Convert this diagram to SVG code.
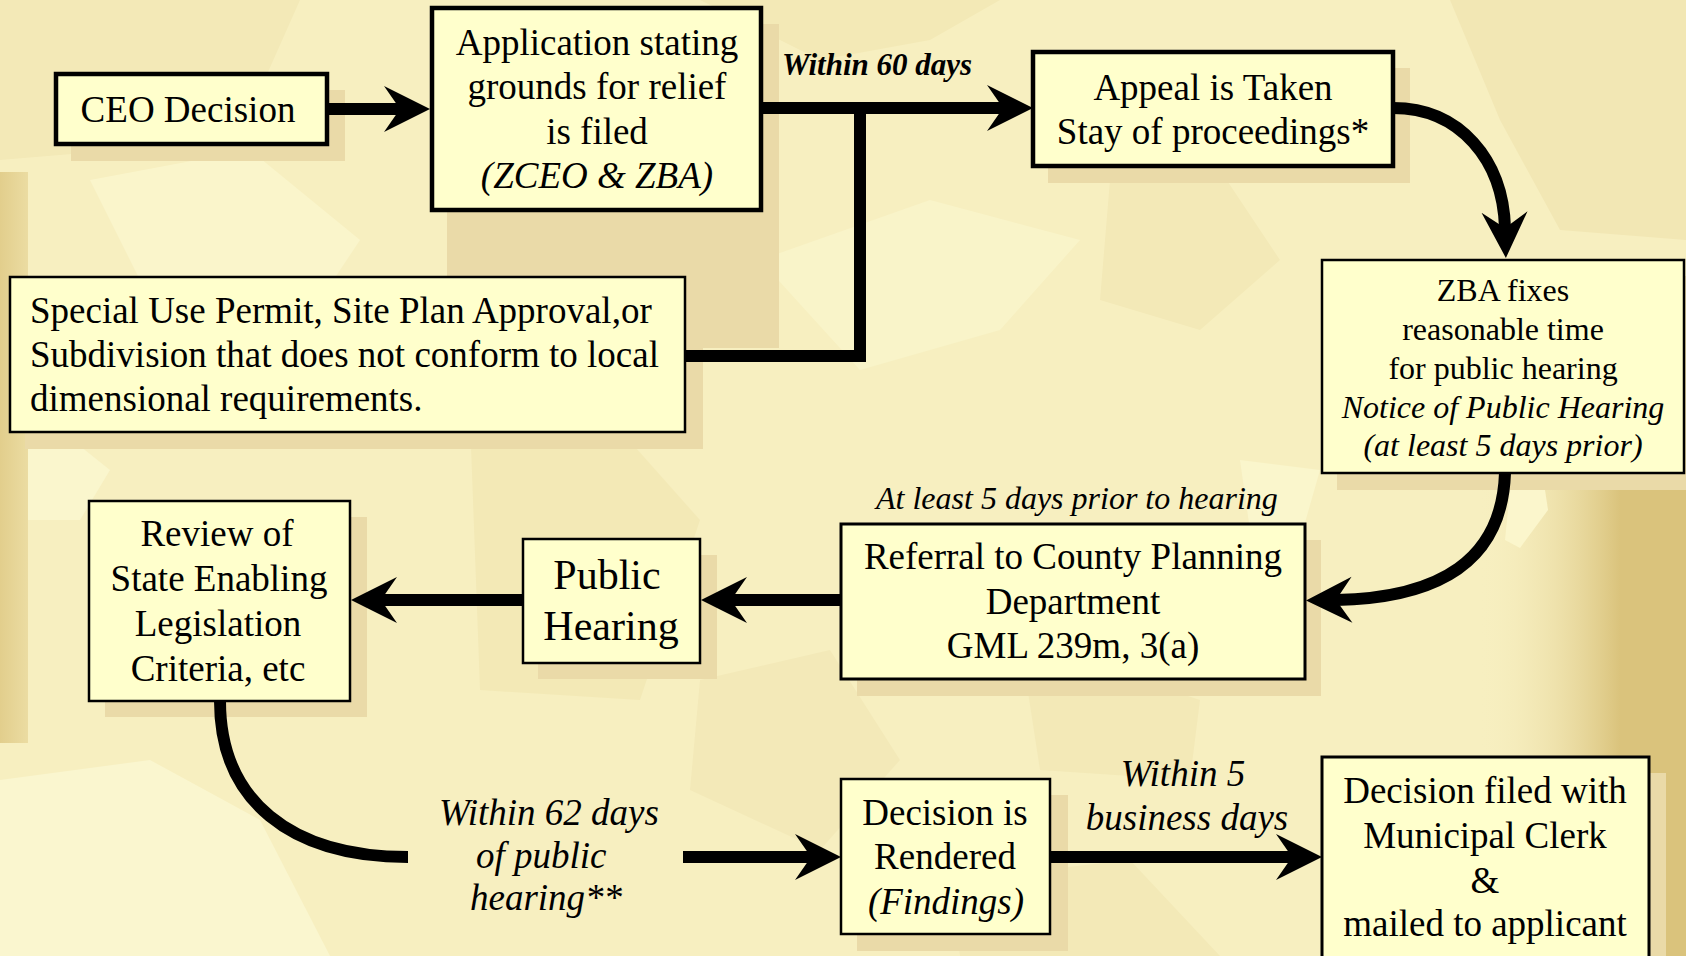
<svg xmlns="http://www.w3.org/2000/svg" width="1686" height="956" viewBox="0 0 1686 956">
  <defs>
    <style>
      .box { fill: #FFFFCC; stroke: #000; stroke-width: 3; }
      .box.heavy { stroke-width: 4.5; }
      .shadow { fill: #EADAA8; }
      .t { font-family: "Liberation Serif", "Times New Roman", serif; font-size: 37px; fill: #000; }
      .c { text-anchor: middle; }
      .i { font-style: italic; }
      .sm { font-size: 32px; }
      .big { font-size: 42px; }
      .bi { font-weight: bold; font-style: italic; font-size: 31px; }
      .wire { fill: none; stroke: #000; stroke-width: 12; stroke-linejoin: miter; }
      .wire.arrow { marker-end: url(#head); }
    </style>
    <marker id="head" markerUnits="userSpaceOnUse" viewBox="-20 -26 54 52" markerWidth="54" markerHeight="52" refX="0" refY="0" orient="auto" overflow="visible">
      <path d="M30,0 L-16,-23 L0,0 L-16,23 Z" fill="#000"/>
    </marker>
    <linearGradient id="leftStrip" x1="0" y1="0" x2="1" y2="0">
      <stop offset="0" stop-color="#E2CE8C"/>
      <stop offset="1" stop-color="#EBDCA2"/>
    </linearGradient>
    <linearGradient id="rightGold" x1="1480" y1="0" x2="1620" y2="0" gradientUnits="userSpaceOnUse">
      <stop offset="0" stop-color="#F6EDBE" stop-opacity="0"/>
      <stop offset="1" stop-color="#DAC37C"/>
    </linearGradient>
  </defs>

  <!-- background -->
  <g id="background">
    <rect width="1686" height="956" fill="#F7EFC0"/>
    <polygon points="0,0 300,0 260,90 120,150 0,160" fill="#F3E9B7"/>
    <polygon points="90,180 250,150 360,240 300,330 150,300" fill="#FAF5CB"/>
    <polygon points="700,0 1000,0 930,40 820,60" fill="#F3E9B6"/>
    <polygon points="760,260 930,200 1080,240 1000,330 860,370" fill="#F9F4C9"/>
    <polygon points="1110,180 1220,170 1280,260 1200,330 1100,300" fill="#F3E9B7"/>
    <polygon points="1450,0 1686,0 1686,240 1560,230 1500,120" fill="#F2E7B4"/>
    <polygon points="470,420 620,430 700,520 640,700 480,690" fill="#F3E9B6"/>
    <polygon points="700,680 830,650 900,760 820,850 690,790" fill="#F3E9B8"/>
    <polygon points="0,430 60,430 110,470 80,520 0,520" fill="#FAF6CD"/>
    <polygon points="0,780 150,760 260,820 330,956 0,956" fill="#FAF6CF"/>
    <polygon points="1020,640 1200,700 1190,780 1040,770" fill="#F3E9B7"/>
    <polygon points="950,880 1130,860 1220,956 960,956" fill="#F3E9B7"/>
    <polygon points="1240,460 1320,470 1300,540 1250,530" fill="#FAF6CC"/>
    <rect x="0" y="172" width="28" height="571" fill="url(#leftStrip)"/>
    <rect x="1480" y="490" width="206" height="466" fill="url(#rightGold)"/>
    <polygon points="1510,490 1545,490 1548,510 1520,548 1505,540" fill="#FBF6CC"/>
  </g>

  <!-- edge labels -->
  <g id="labels">
    <text class="t bi" x="782" y="75">Within 60 days</text>
    <text class="t i sm" x="876" y="509">At least 5 days prior to hearing</text>
    <text class="t i" x="439" y="825">Within 62 days</text>
    <text class="t i" x="476" y="868">of public</text>
    <text class="t i" x="470" y="910">hearing**</text>
    <text class="t i c" x="1183" y="786">Within 5</text>
    <text class="t i c" x="1187" y="830">business days</text>
  </g>

  <g id="ceo-decision">
    <rect class="shadow" x="71" y="90" width="274" height="71"/>
    <rect class="box heavy" x="56" y="74" width="271" height="70"/>
    <text class="t c" x="188" y="122">CEO Decision</text>
  </g>

  <g id="application">
    <rect class="shadow" x="447" y="24" width="332" height="324"/>
    <rect class="box heavy" x="432" y="8" width="329" height="202"/>
    <text class="t c" x="597" y="55">Application stating</text>
    <text class="t c" x="597" y="99">grounds for relief</text>
    <text class="t c" x="597" y="144">is filed</text>
    <text class="t c i" x="597" y="188">(ZCEO &amp; ZBA)</text>
  </g>

  <g id="special-use">
    <rect class="shadow" x="25" y="293" width="678" height="156"/>
    <rect class="box" x="10" y="277" width="675" height="155" style="stroke-width:2.5"/>
    <text class="t" x="30" y="323">Special Use Permit, Site Plan Approval,or</text>
    <text class="t" x="30" y="367">Subdivision that does not conform to local</text>
    <text class="t" x="30" y="411">dimensional requirements.</text>
  </g>

  <g id="appeal">
    <rect class="shadow" x="1048" y="68" width="362" height="115"/>
    <rect class="box heavy" x="1033" y="52" width="360" height="114"/>
    <text class="t c" x="1213" y="100">Appeal is Taken</text>
    <text class="t c" x="1213" y="144">Stay of proceedings*</text>
  </g>

  <g id="zba-fixes">
    <rect class="shadow" x="1337" y="276" width="349" height="214"/>
    <rect class="box" x="1322" y="260" width="362" height="213" style="stroke-width:2.5"/>
    <text class="t c sm" x="1503" y="301">ZBA fixes</text>
    <text class="t c sm" x="1503" y="340">reasonable time</text>
    <text class="t c sm" x="1503" y="379">for public hearing</text>
    <text class="t c sm i" x="1503" y="418">Notice of Public Hearing</text>
    <text class="t c sm i" x="1503" y="456">(at least 5 days prior)</text>
  </g>

  <g id="referral">
    <rect class="shadow" x="857" y="540" width="464" height="156"/>
    <rect class="box" x="841" y="524" width="464" height="155"/>
    <text class="t c" x="1073" y="569">Referral to County Planning</text>
    <text class="t c" x="1073" y="614">Department</text>
    <text class="t c" x="1073" y="658">GML 239m, 3(a)</text>
  </g>

  <g id="public-hearing">
    <rect class="shadow" x="538" y="555" width="179" height="124"/>
    <rect class="box" x="523" y="539" width="177" height="124" style="stroke-width:2.5"/>
    <text class="t c big" x="607" y="589">Public</text>
    <text class="t c big" x="611" y="640">Hearing</text>
  </g>

  <g id="review">
    <rect class="shadow" x="105" y="517" width="262" height="200"/>
    <rect class="box" x="89" y="501" width="261" height="200" style="stroke-width:2.5"/>
    <text class="t c" x="217" y="546">Review of</text>
    <text class="t c" x="219" y="591">State Enabling</text>
    <text class="t c" x="218" y="636">Legislation</text>
    <text class="t c" x="218" y="681">Criteria, etc</text>
  </g>

  <g id="decision-rendered">
    <rect class="shadow" x="857" y="795" width="211" height="156"/>
    <rect class="box" x="841" y="779" width="209" height="155" style="stroke-width:2.5"/>
    <text class="t c" x="945" y="825">Decision is</text>
    <text class="t c" x="945" y="869">Rendered</text>
    <text class="t c i" x="946" y="914">(Findings)</text>
  </g>

  <g id="decision-filed">
    <rect class="shadow" x="1338" y="773" width="328" height="200"/>
    <rect class="box" x="1322" y="757" width="327" height="215"/>
    <text class="t c" x="1485" y="803">Decision filed with</text>
    <text class="t c" x="1485" y="848">Municipal Clerk</text>
    <text class="t c" x="1485" y="893">&amp;</text>
    <text class="t c" x="1485" y="936">mailed to applicant</text>
  </g>

  <!-- connectors, drawn over the box shadows -->
  <g id="connectors">
    <path class="wire arrow" d="M327,109 H400"/>
    <path class="wire arrow" d="M761,108 H1003"/>
    <path class="wire" d="M685,356 H860 V108"/>
    <path class="wire arrow" d="M1393,108 C1460,108 1503,160 1505,228"/>
    <path class="wire arrow" d="M1505,473 C1502,560 1440,598 1336,600"/>
    <path class="wire arrow" d="M841,600 H731"/>
    <path class="wire arrow" d="M523,600 H381"/>
    <path class="wire" d="M220,701 C220,800 290,857 408,857"/>
    <path class="wire arrow" d="M683,857 H811"/>
    <path class="wire arrow" d="M1050,857 H1292"/>
  </g>
</svg>
